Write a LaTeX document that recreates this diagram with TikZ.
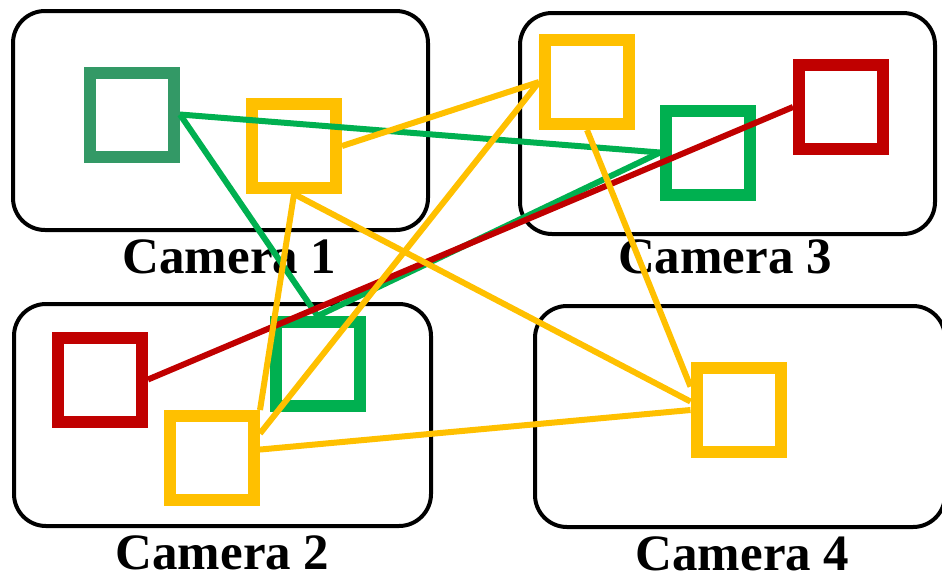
\documentclass[tikz,border=0pt]{standalone}
\usepackage{fontspec}
\setmainfont{Liberation Serif}
\usepackage{tikz}
\usetikzlibrary{shapes}

\definecolor{objyellow}{HTML}{FFC000}
\definecolor{objgreen}{HTML}{00B050}
\definecolor{objdkgreen}{HTML}{339966}
\definecolor{objred}{HTML}{C00000}

\tikzset{
  cambox/.style={draw=black, line width=2pt, rounded corners=16pt, rectangle, inner sep=0pt},
  obj/.style={draw=#1, line width=6pt, rectangle, minimum size=42pt, inner sep=0pt},
  camlabel/.style={anchor=base, inner sep=0pt, font=\fontsize{25.5}{30}\selectfont\bfseries},
  link/.style={draw=#1, line width=3pt}
}

\begin{document}
\begin{tikzpicture}[x=0.5pt, y=-0.5pt]
        \useasboundingbox (0,0) rectangle (942,579);
        \clip (0,0) rectangle (942,579);

        %cameras
        \node[cambox, minimum width=207.5pt, minimum height=109.5pt] (c1) at (220.5,120.5) {};
        \node[cambox, minimum width=207.5pt, minimum height=110.5pt] (c3) at (727.5,123.5) {};
        \node[cambox, minimum width=208.5pt, minimum height=111pt] (c2) at (222.5,415) {};
        \node[cambox, minimum width=205pt, minimum height=110.5pt] (c4) at (740,416.5) {};

        \node[camlabel] (l1) at (229.5,273) {Camera 1};
        \node[camlabel] (l3) at (725,273) {Camera 3};
        \node[camlabel] (l2) at (222.5,569) {Camera 2};
        \node[camlabel] (l4) at (742.5,570) {Camera 4};

        %objects
        \node[obj=objdkgreen] (g1) at (132,114.5) {};
        \node[obj=objyellow] (y1) at (294,146) {};
        \node[obj=objyellow] (y3) at (587,82) {};
        \node[obj=objgreen] (g3) at (708,152.5) {};
        \node[obj=objred] (r3) at (841,107) {};
        \node[obj=objred] (r2) at (100,379.5) {};
        \node[obj=objgreen] (g2) at (317.5,364) {};
        \node[obj=objyellow] (y2) at (212,458) {};
        \node[obj=objyellow] (y4) at (738.5,410) {};

        %green links
        \draw[link=objgreen] (g1.east) -- (g3.west);
        \draw[link=objgreen] (g1.east) -- (g2.north);
        \draw[link=objgreen] (g3.west) -- (g2.north);
        %red links
        \draw[link=objred] (r2.east) -- (r3.west);
        %yellow links
        \draw[link=objyellow] (y1.east) -- (y3.west);
        \draw[link=objyellow] (y1.south) -- (y2.north east);
        \draw[link=objyellow] (y1.south) -- (y4.170);
        \draw[link=objyellow] (y3.west) -- (y2.27);
        \draw[link=objyellow] (y3.south) -- (y4.154);
        \draw[link=objyellow] (y2.10) -- (y4.west);
    \end{tikzpicture}
\end{document}
